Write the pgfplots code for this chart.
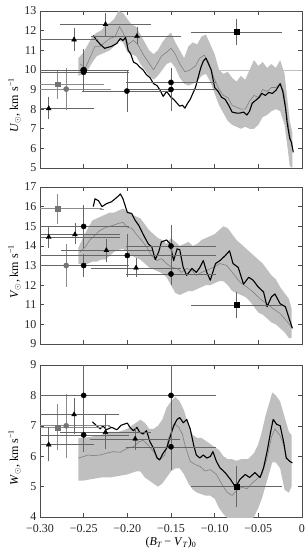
\documentclass[border=0pt]{standalone}
\usepackage{fontspec}
\setmainfont{Liberation Serif}
\usepackage{pgfplots}
\pgfplotsset{compat=1.18}

\pgfplotsset{
  panel/.style={
    scale only axis, width=262pt,
    xmin=-0.30, xmax=0,
    xtick={-0.30,-0.25,-0.20,-0.15,-0.10,-0.05,0},
    xticklabels={},
    tick align=inside,
    major tick length=4pt,
    minor tick num=0,
    axis line style={line width=0.8pt, black!70},
    every tick/.style={black!70, line width=0.6pt},
    /pgf/number format/assume math mode=true,
    tick label style={font=\fontsize{12}{14}\selectfont, black!85},
    label style={font=\fontsize{12}{14}\selectfont},
    clip=true,
  },
  bandst/.style={fill=black!25, draw=none, forget plot},
  graycurve/.style={color=black!50, line width=0.6pt, no marks},
  blackcurve/.style={black, line width=1.1pt, no marks, line join=round},
  errpts/.style={only marks,
    error bars/x dir=both, error bars/x explicit,
    error bars/y dir=both, error bars/y explicit,
    error bars/error mark options={mark size=1.6pt, line width=0.5pt},
    error bars/error bar style={line width=0.55pt, black!60}},
  btri/.style={errpts, mark=triangle*, mark size=2.8pt, mark options={black}},
  bcirc/.style={errpts, mark=*, mark size=2.6pt, mark options={black}},
  bsq/.style={errpts, mark=square*, mark size=2.4pt, mark options={black}},
  gsq/.style={errpts, mark=square*, mark size=2.4pt, mark options={black!55, draw=black!55},
    error bars/error bar style={line width=0.9pt, black!45}},
  gcirc/.style={errpts, mark=*, mark size=2.6pt, mark options={black!55, draw=black!55},
    error bars/error bar style={line width=0.9pt, black!45}},
}

\begin{document}
\begin{tikzpicture}
\path[use as bounding box] (0,0) rectangle (307pt,-552pt);

% ---------------- (a) ----------------
\begin{axis}[panel, at={(40pt,-168pt)}, anchor=south west, height=157pt,
  ymin=5, ymax=13, ytick={5,6,...,13},
  ylabel={\textit{U}\textsubscript{$\odot$}, km s\textsuperscript{−1}},
  ylabel style={at={(axis description cs:-0.097,0.40)}, anchor=center, rotate=0}]
\addplot[bandst] coordinates {
(-0.256,10.6) (-0.250,10.9) (-0.245,11.3) (-0.240,11.7) (-0.235,11.9) (-0.230,12.0) (-0.225,12.3) (-0.220,12.4) (-0.215,12.6) (-0.210,13.0) (-0.205,12.9) (-0.200,12.6) (-0.195,12.3) (-0.190,12.2) (-0.185,11.8) (-0.180,11.4) (-0.175,11.0) (-0.170,10.8) (-0.165,11.0) (-0.160,11.4) (-0.155,11.7) (-0.150,11.9) (-0.145,11.4) (-0.140,11.0) (-0.135,10.6) (-0.130,11.2) (-0.125,11.4) (-0.120,11.3) (-0.115,11.7) (-0.110,11.8) (-0.105,11.3) (-0.100,10.8) (-0.095,10.0) (-0.090,9.8) (-0.085,9.9) (-0.080,9.6) (-0.075,9.4) (-0.070,9.7) (-0.065,9.5) (-0.060,10.0) (-0.055,10.5) (-0.050,10.2) (-0.045,10.4) (-0.040,10.1) (-0.035,10.3) (-0.030,10.1) (-0.025,10.5) (-0.020,9.8) (-0.017,8.6) (-0.014,7.4) (-0.011,6.8)
(-0.011,5.0) (-0.014,5.1) (-0.017,6.2) (-0.020,7.2) (-0.025,7.9) (-0.030,8.0) (-0.035,7.9) (-0.040,7.7) (-0.045,7.6) (-0.050,7.2) (-0.055,7.0) (-0.060,7.0) (-0.065,7.1) (-0.070,7.0) (-0.075,7.1) (-0.080,7.2) (-0.085,7.4) (-0.090,7.8) (-0.095,8.2) (-0.100,8.8) (-0.105,9.4) (-0.110,9.8) (-0.115,9.7) (-0.120,9.4) (-0.125,9.3) (-0.130,9.2) (-0.135,9.3) (-0.140,9.6) (-0.145,10.1) (-0.150,10.4) (-0.155,10.3) (-0.160,10.0) (-0.165,9.7) (-0.170,9.5) (-0.175,9.7) (-0.180,10.0) (-0.185,10.3) (-0.190,10.7) (-0.195,10.8) (-0.200,10.9) (-0.205,11.4) (-0.210,11.5) (-0.215,11.2) (-0.220,11.0) (-0.225,10.9) (-0.230,10.8) (-0.235,10.7) (-0.240,10.4) (-0.245,10.0) (-0.250,9.8) (-0.256,9.7)
};
\addplot[black!25, line width=0.5pt, forget plot] coordinates {(-0.10,10.0) (0,10.0)};
\addplot[graycurve] coordinates {
(-0.254,10.3) (-0.248,10.1) (-0.243,10.6) (-0.237,11.2) (-0.231,11.2) (-0.226,11.4) (-0.220,11.6) (-0.214,11.7) (-0.209,12.2) (-0.205,11.9) (-0.199,11.3) (-0.193,11.5) (-0.188,11.3) (-0.182,10.8) (-0.176,10.4) (-0.170,10.0) (-0.166,10.3) (-0.161,10.7) (-0.155,10.9) (-0.150,11.1) (-0.145,10.8) (-0.140,10.3) (-0.134,9.9) (-0.128,10.0) (-0.122,10.2) (-0.117,10.6) (-0.112,10.75) (-0.107,10.4) (-0.101,9.6) (-0.095,9.0) (-0.090,8.7) (-0.085,8.6) (-0.080,8.2) (-0.075,8.1) (-0.070,8.0) (-0.065,8.0) (-0.060,8.4) (-0.055,8.7) (-0.050,8.6) (-0.045,9.0) (-0.040,8.9) (-0.035,9.1) (-0.030,9.1) (-0.025,9.3) (-0.021,8.9) (-0.017,7.6) (-0.014,6.7) (-0.011,6.0)
};
\addplot[blackcurve] coordinates {
(-0.239,11.75) (-0.235,11.5) (-0.231,11.3) (-0.226,11.1) (-0.222,11.15) (-0.218,11.2) (-0.212,11.35) (-0.208,11.6) (-0.205,11.5) (-0.202,11.65) (-0.199,11.0) (-0.196,10.8) (-0.193,10.4) (-0.189,10.3) (-0.186,10.15) (-0.182,10.0) (-0.178,9.75) (-0.174,9.6) (-0.170,9.3) (-0.166,9.2) (-0.163,9.0) (-0.159,8.65) (-0.155,8.9) (-0.150,8.6) (-0.147,8.5) (-0.143,8.3) (-0.140,8.15) (-0.137,8.2) (-0.134,8.05) (-0.131,8.3) (-0.128,8.5) (-0.125,8.8) (-0.122,9.1) (-0.119,9.6) (-0.116,10.1) (-0.113,10.45) (-0.110,10.6) (-0.107,10.3) (-0.104,10.0) (-0.100,9.1) (-0.096,8.9) (-0.092,8.6) (-0.088,8.5) (-0.084,8.2) (-0.080,7.85) (-0.075,7.8) (-0.071,7.8) (-0.067,7.85) (-0.063,7.7) (-0.060,7.9) (-0.057,8.3) (-0.053,8.45) (-0.049,8.6) (-0.046,8.8) (-0.042,8.7) (-0.038,8.85) (-0.034,8.8) (-0.030,8.95) (-0.025,9.3) (-0.022,8.9) (-0.019,8.1) (-0.017,7.3) (-0.014,6.5) (-0.012,6.3) (-0.010,5.8)
};
\addplot[btri] coordinates {
(-0.290,8.03) += (0.05,0.52) -= (0.05,0.45)
(-0.261,11.54) += (0.026,0.5) -= (0.05,0.5)
(-0.225,12.32) +- (0.05,0.5)
(-0.189,11.71) += (0.049,0.4) -= (0.051,0.3)
};
\addplot[gsq] coordinates {(-0.280,9.27) +- (0.051,0.66)};
\addplot[gcirc] coordinates {(-0.270,9.02) +- (0.05,1.0)};
\addplot[bcirc] coordinates {
(-0.25,9.88) +- (0.05,0.1)
(-0.2005,8.92) +- (0.05,1.0)
(-0.15,9.0) +- (0.05,1.0)
(-0.15,9.36) +- (0.05,0.3)
};
\addplot[bcirc, mark size=3.2pt] coordinates {(-0.25,9.98) +- (0.05,1.0)};
\addplot[bsq] coordinates {(-0.075,11.93) +- (0.05,0.6)};
\node[font=\fontsize{12}{14}\selectfont, anchor=center] at (axis description cs:-0.105,0.925) {(a)};
\end{axis}

% ---------------- (b) ----------------
\begin{axis}[panel, at={(40pt,-344pt)}, anchor=south west, height=157pt,
  ymin=9, ymax=17, ytick={9,10,...,17},
  ylabel={\textit{V}\textsubscript{$\odot$}, km s\textsuperscript{−1}},
  ylabel style={at={(axis description cs:-0.097,0.46)}, anchor=center}]
\addplot[bandst] coordinates {
(-0.256,13.9) (-0.250,14.5) (-0.245,14.9) (-0.240,15.3) (-0.235,15.4) (-0.230,15.5) (-0.225,15.6) (-0.220,15.7) (-0.215,15.7) (-0.210,15.8) (-0.205,15.9) (-0.200,15.8) (-0.195,15.6) (-0.190,15.5) (-0.185,15.4) (-0.180,15.1) (-0.175,14.8) (-0.170,14.6) (-0.165,14.4) (-0.160,14.3) (-0.155,14.1) (-0.150,14.4) (-0.145,14.2) (-0.140,14.0) (-0.135,14.1) (-0.130,14.2) (-0.125,14.0) (-0.120,14.1) (-0.115,14.3) (-0.110,14.4) (-0.105,14.5) (-0.100,14.6) (-0.095,14.8) (-0.090,15.0) (-0.085,14.9) (-0.080,14.6) (-0.075,14.3) (-0.070,14.1) (-0.065,13.9) (-0.060,13.7) (-0.055,13.5) (-0.050,13.3) (-0.045,13.1) (-0.040,12.8) (-0.035,12.5) (-0.030,12.3) (-0.025,11.9) (-0.020,11.6) (-0.015,11.3) (-0.012,10.8)
(-0.012,9.3) (-0.015,9.3) (-0.020,9.6) (-0.025,9.8) (-0.030,10.0) (-0.035,10.1) (-0.040,10.3) (-0.045,10.5) (-0.050,10.6) (-0.055,10.9) (-0.060,11.2) (-0.065,11.4) (-0.070,11.5) (-0.075,11.6) (-0.080,11.7) (-0.085,12.0) (-0.090,12.2) (-0.095,12.2) (-0.100,12.1) (-0.105,12.0) (-0.110,12.0) (-0.115,11.9) (-0.120,11.8) (-0.125,11.7) (-0.130,11.7) (-0.135,11.6) (-0.140,11.5) (-0.145,11.6) (-0.150,12.0) (-0.155,12.4) (-0.160,12.6) (-0.165,12.7) (-0.170,12.8) (-0.175,12.9) (-0.180,13.1) (-0.185,13.3) (-0.190,13.4) (-0.195,13.5) (-0.200,13.7) (-0.205,13.85) (-0.210,13.8) (-0.215,13.7) (-0.220,13.5) (-0.225,13.3) (-0.230,13.3) (-0.235,13.2) (-0.240,13.2) (-0.245,13.1) (-0.250,13.0) (-0.256,13.1)
};
\addplot[graycurve] coordinates {
(-0.254,13.7) (-0.248,13.95) (-0.243,14.3) (-0.237,14.55) (-0.231,14.8) (-0.224,14.95) (-0.216,15.05) (-0.210,15.15) (-0.205,15.2) (-0.200,14.95) (-0.195,14.9) (-0.189,14.55) (-0.184,14.3) (-0.178,13.95) (-0.172,13.5) (-0.166,13.25) (-0.161,13.35) (-0.155,13.1) (-0.149,12.9) (-0.143,12.85) (-0.138,12.65) (-0.132,12.85) (-0.126,12.75) (-0.121,12.5) (-0.115,12.65) (-0.109,12.75) (-0.102,12.9) (-0.094,13.1) (-0.086,13.0) (-0.079,12.6) (-0.071,12.15) (-0.063,11.9) (-0.056,11.65) (-0.048,11.3) (-0.040,11.05) (-0.033,10.8) (-0.025,10.55) (-0.018,10.2) (-0.011,9.8)
};
\addplot[blackcurve] coordinates {
(-0.239,16.0) (-0.237,16.4) (-0.233,16.3) (-0.229,16.0) (-0.224,16.15) (-0.218,16.25) (-0.214,16.4) (-0.210,16.55) (-0.208,16.65) (-0.205,16.4) (-0.200,15.7) (-0.195,15.65) (-0.191,15.3) (-0.187,15.05) (-0.182,14.6) (-0.176,14.1) (-0.172,13.95) (-0.168,13.3) (-0.164,13.7) (-0.161,14.2) (-0.155,14.3) (-0.151,14.1) (-0.147,13.25) (-0.143,13.85) (-0.140,13.8) (-0.136,12.9) (-0.132,12.5) (-0.126,12.85) (-0.121,12.65) (-0.117,12.9) (-0.113,13.25) (-0.109,12.65) (-0.105,12.25) (-0.099,13.1) (-0.094,13.25) (-0.088,13.5) (-0.083,13.75) (-0.079,13.1) (-0.073,12.9) (-0.067,12.05) (-0.061,12.4) (-0.056,12.25) (-0.050,11.9) (-0.044,11.65) (-0.040,10.9) (-0.035,11.4) (-0.031,11.55) (-0.025,11.05) (-0.019,10.9) (-0.014,10.2) (-0.011,9.8)
};
\addplot[gsq] coordinates {(-0.280,15.89) +- (0.051,0.68)};
\addplot[gcirc] coordinates {(-0.270,13.0) +- (0.05,1.0)};
\addplot[btri] coordinates {
(-0.290,14.45) += (0.08,0.5) -= (0.05,0.5)
(-0.260,14.58) += (0.05,0.5) -= (0.05,0.4)
(-0.224,13.77) +- (0.05,0.5)
(-0.190,12.88) +- (0.05,0.4)
};
\addplot[bcirc] coordinates {
(-0.25,14.99) +- (0.05,1.0)
(-0.25,13.0) +- (0.05,0.5)
(-0.20,13.51) +- (0.10,1.0)
(-0.15,13.99) +- (0.05,1.0)
(-0.15,12.57) +- (0.05,0.5)
};
\addplot[bsq] coordinates {(-0.075,10.99) +- (0.05,0.6)};
\node[font=\fontsize{12}{14}\selectfont, anchor=center] at (axis description cs:-0.103,0.95) {(b)};
\end{axis}

% ---------------- (c) ----------------
\begin{axis}[panel, at={(40pt,-517pt)}, anchor=south west, height=152pt,
  ymin=4, ymax=9, ytick={4,5,...,9},
  xticklabels={−0.30,−0.25,−0.20,−0.15,−0.10,−0.05,0},
  xticklabel style={yshift=-4pt},
  xlabel={(\textit{B}\textsubscript{\textit{T}}\,− \textit{V}\textsubscript{\textit{T}})\textsubscript{0}},
  xlabel style={at={(axis description cs:0.5,0)}, anchor=center, yshift=-26pt},
  ylabel={\textit{W}\textsubscript{$\odot$}, km s\textsuperscript{−1}},
  ylabel style={at={(axis description cs:-0.097,0.39)}, anchor=center}]
\addplot[bandst] coordinates {
(-0.256,6.6) (-0.250,6.6) (-0.240,6.65) (-0.230,6.7) (-0.220,6.8) (-0.210,6.8) (-0.200,6.9) (-0.190,7.1) (-0.185,7.2) (-0.180,7.1) (-0.175,6.9) (-0.170,6.9) (-0.165,7.0) (-0.160,7.2) (-0.155,7.6) (-0.150,7.8) (-0.145,7.95) (-0.140,7.8) (-0.135,7.5) (-0.130,7.0) (-0.125,6.7) (-0.120,6.6) (-0.115,6.6) (-0.110,6.5) (-0.105,6.4) (-0.100,6.3) (-0.095,6.2) (-0.090,6.0) (-0.085,5.9) (-0.080,5.9) (-0.075,5.85) (-0.070,5.9) (-0.062,5.9) (-0.055,6.1) (-0.050,6.4) (-0.046,6.8) (-0.042,7.3) (-0.038,7.7) (-0.034,8.1) (-0.030,8.0) (-0.025,7.8) (-0.020,7.3) (-0.015,6.8) (-0.012,6.7)
(-0.012,5.0) (-0.015,4.8) (-0.020,4.9) (-0.025,5.6) (-0.030,5.8) (-0.034,5.8) (-0.038,5.4) (-0.042,5.0) (-0.046,4.6) (-0.050,4.3) (-0.055,4.0) (-0.062,3.8) (-0.070,3.8) (-0.075,3.8) (-0.080,3.9) (-0.085,3.95) (-0.090,4.1) (-0.095,4.3) (-0.100,4.6) (-0.105,4.7) (-0.110,4.7) (-0.115,4.75) (-0.120,4.8) (-0.125,4.9) (-0.130,5.1) (-0.135,5.4) (-0.140,5.6) (-0.145,5.6) (-0.150,5.5) (-0.155,5.3) (-0.160,5.1) (-0.165,5.0) (-0.170,5.1) (-0.175,5.2) (-0.180,5.3) (-0.185,5.5) (-0.190,5.5) (-0.200,5.4) (-0.210,5.35) (-0.220,5.3) (-0.230,5.3) (-0.240,5.25) (-0.250,5.2) (-0.256,5.2)
};
\addplot[graycurve] coordinates {
(-0.256,5.94) (-0.250,5.99) (-0.245,6.04) (-0.239,6.02) (-0.231,6.04) (-0.224,6.1) (-0.216,6.15) (-0.208,6.13) (-0.200,6.26) (-0.193,6.31) (-0.187,6.47) (-0.182,6.52) (-0.176,6.36) (-0.170,6.15) (-0.166,5.99) (-0.163,5.88) (-0.157,6.04) (-0.153,6.57) (-0.149,6.84) (-0.145,7.05) (-0.141,6.95) (-0.137,6.73) (-0.134,6.36) (-0.128,5.83) (-0.122,5.72) (-0.117,5.67) (-0.111,5.51) (-0.105,5.56) (-0.098,5.4) (-0.092,5.09) (-0.086,4.82) (-0.080,4.71) (-0.075,4.87) (-0.069,4.98) (-0.063,4.93) (-0.058,5.09) (-0.052,5.24) (-0.046,5.4) (-0.040,5.94) (-0.035,6.63) (-0.031,6.9) (-0.025,6.68) (-0.021,6.36) (-0.018,5.94) (-0.014,5.83) (-0.011,5.78)
};
\addplot[blackcurve] coordinates {
(-0.240,7.13) (-0.235,7.0) (-0.231,6.9) (-0.228,7.0) (-0.224,6.87) (-0.218,6.95) (-0.212,6.87) (-0.207,7.02) (-0.200,7.09) (-0.197,6.95) (-0.193,6.84) (-0.189,6.95) (-0.186,6.79) (-0.182,6.73) (-0.178,6.84) (-0.174,6.47) (-0.170,6.26) (-0.166,5.94) (-0.163,5.88) (-0.159,6.1) (-0.155,6.26) (-0.151,6.63) (-0.147,7.0) (-0.143,7.21) (-0.140,7.27) (-0.136,7.1) (-0.132,7.21) (-0.128,6.9) (-0.124,6.36) (-0.121,6.04) (-0.117,5.94) (-0.113,6.04) (-0.109,5.94) (-0.105,5.99) (-0.102,6.15) (-0.098,5.83) (-0.094,5.62) (-0.088,5.46) (-0.082,5.24) (-0.076,4.98) (-0.071,5.24) (-0.065,5.4) (-0.060,5.3) (-0.054,5.46) (-0.048,5.3) (-0.044,5.62) (-0.040,6.15) (-0.036,6.79) (-0.033,7.21) (-0.029,7.05) (-0.025,7.0) (-0.021,6.47) (-0.018,5.94) (-0.014,5.83) (-0.011,5.78)
};
\addplot[gsq] coordinates {(-0.280,6.95) += (0.05,0.71) -= (0.05,0.69)};
\addplot[gcirc] coordinates {(-0.270,7.0) +- (0.05,1.0)};
\addplot[btri] coordinates {
(-0.290,6.38) += (0.05,0.52) -= (0.05,0.5)
(-0.261,7.37) += (0.05,0.5) -= (0.05,0.58)
(-0.225,6.79) +- (0.05,0.5)
(-0.191,6.57) +- (0.05,0.3)
};
\addplot[bcirc] coordinates {
(-0.25,8.0) +- (0.05,1.8)
(-0.25,6.7) +- (0.05,0.5)
(-0.15,8.0) +- (0.05,1.5)
(-0.15,6.31) +- (0.05,0.7)
};
\addplot[bsq] coordinates {(-0.075,5.0) +- (0.05,0.62)};
\node[font=\fontsize{12}{14}\selectfont, anchor=center] at (axis description cs:-0.103,0.99) {(c)};
\end{axis}
\end{tikzpicture}
\end{document}
